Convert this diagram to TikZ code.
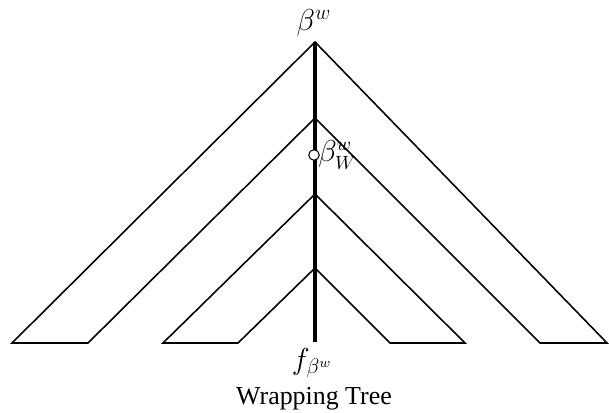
\documentclass[tikz,border=0pt]{standalone}
\usepackage{fontspec}
\setmainfont{Liberation Serif}
\begin{document}
\begin{tikzpicture}[x=0.5714pt,y=-0.5714pt,
  thin line/.style={line width=0.9pt,line join=miter},
  spine/.style={line width=2.3pt},
  lbl/.style={inner sep=0pt,font=\fontsize{17}{20}\selectfont},
  captext/.style={inner sep=0pt,font=\fontsize{14.8}{18}\selectfont}]
\useasboundingbox (0,0) rectangle (609,413);
% apexes on spine
\coordinate (a1) at (315,42);
\coordinate (a2) at (315,118);
\coordinate (a3) at (315,194);
\coordinate (a4) at (315,268);
\coordinate (bot) at (315,342);
% base points
\coordinate (l1) at (12,343);
\coordinate (l2) at (88,343);
\coordinate (l3) at (163,343);
\coordinate (l4) at (238,343);
\coordinate (r4) at (390,343);
\coordinate (r3) at (465,343);
\coordinate (r2) at (540,343);
\coordinate (r1) at (607,343);
\draw[thin line] (a2) -- (l2) -- (l1) -- (a1) -- (r1) -- (r2) -- cycle;
\draw[thin line] (a4) -- (l4) -- (l3) -- (a3) -- (r3) -- (r4) -- cycle;
\draw[spine] (a1) -- (bot);
\node[circle,draw,fill=white,line width=0.6pt,minimum size=6pt,inner sep=0pt] (c) at (314,155) {};
\node[lbl,anchor=west,font=\fontsize{16}{19}\selectfont] (cl) at ([xshift=-1pt]c.east) {$\beta^w_W$};
\node[lbl] (top) at (314,23) {$\beta^w$};
\node[lbl] (f) at (312,363) {$f_{\beta^w}$};
\node[captext] (capt) at (314,399) {Wrapping Tree};
\end{tikzpicture}
\end{document}
